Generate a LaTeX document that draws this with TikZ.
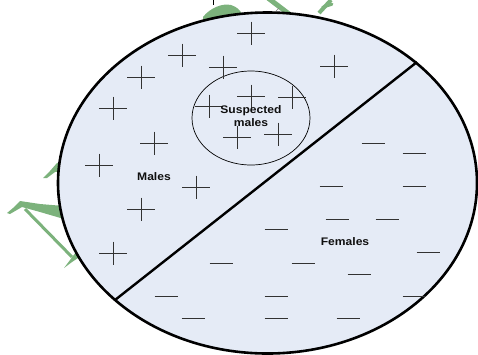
\documentclass[tikz,border=0pt]{standalone}
\usepackage{fontspec}
\setmainfont{Liberation Sans}
\usetikzlibrary{shapes.geometric}
\begin{document}
\begin{tikzpicture}[x=1pt,y=-1pt,
  wm/.style={fill={rgb,255:red,124;green,178;blue,124},draw=none},
  plusmark/.style={draw={rgb,255:red,50;green,50;blue,50},line width=0.9pt},
  lbl/.style={font=\bfseries\fontsize{11}{12}\selectfont,xscale=1.1,text={rgb,255:red,15;green,15;blue,15},inner sep=0pt}]
\useasboundingbox (0,0) rectangle (478,354);
% watermark fragments (behind)
\fill[wm] (43,178) -- (50,171) -- (57,163) -- (62,162) -- (63,171) -- (55,172) -- (47,178) -- cycle;
\fill[wm] (7,213) -- (13,208) -- (20,201) -- (40,204) -- (64,206) -- (64,219) -- (40,212) -- (22,207) -- (10,214) -- cycle;
\draw[wm,draw={rgb,255:red,124;green,178;blue,124},line width=3pt] (25,209) -- (72,257);
\fill[wm] (64,268) -- (70,260) -- (76,252) -- (78,258) -- (72,262) -- cycle;
\fill[wm] (203,17) .. controls (210,8) and (222,3) .. (231,5) .. controls (237,7) and (240,10) .. (242,14) -- (242,22) -- (203,24) -- cycle;
\draw[draw={rgb,255:red,124;green,178;blue,124},line width=5pt] (268,-2) -- (289,14);
\draw[draw={rgb,255:red,124;green,178;blue,124},line width=4pt] (331,0) -- (319,13);
\draw[draw={rgb,255:red,124;green,178;blue,124},line width=3pt] (322,8) .. controls (328,4) and (332,6) .. (332,3);
\draw[line width=0.8pt] (213,0) -- (213,5);
\draw[line width=0.6pt,gray] (276,11) -- (279,8);
% main ellipse
\node[draw,line width=2.6pt,fill={rgb,255:red,229;green,235;blue,246},ellipse,minimum width=419pt,minimum height=341pt,inner sep=0pt] (pop) at (267.5,183) {};
% diagonal divider
\coordinate (d1) at (417,62);
\coordinate (d2) at (115,300);
\draw[line width=2.4pt] (d1) -- (d2);
% suspected circle
\node[draw,line width=0.7pt,ellipse,minimum width=118pt,minimum height=94pt,inner sep=0pt] (susp) at (251,118) {};
% pluses
\foreach \x/\y in {251/33,182/55,223/67,334/66,141/77,251/96,292/97,113/108,209/106,154/143,99/165,196/187,141/209,113/253,237/137,278/134}
  \draw[plusmark] (\x-14,\y) -- (\x+14,\y) (\x,\y-11.5) -- (\x,\y+11.5);
% minuses
\foreach \x/\y in {373/143,414/153,331/186,414/186,337/219,387/219,276/229,428/252,303/263,359/274,276/296,414/296,276/318,348/318,221/263,166/296,193/318}
  \draw[plusmark] (\x-11.5,\y) -- (\x+11.5,\y);
% labels
\node[lbl] (tsusp) at (251,111) {Suspected};
\node[lbl] (tmales2) at (251,123) {males};
\node[lbl] (tmales) at (154,177) {Males};
\node[lbl] (tfem) at (345,242) {Females};
\end{tikzpicture}
\end{document}
